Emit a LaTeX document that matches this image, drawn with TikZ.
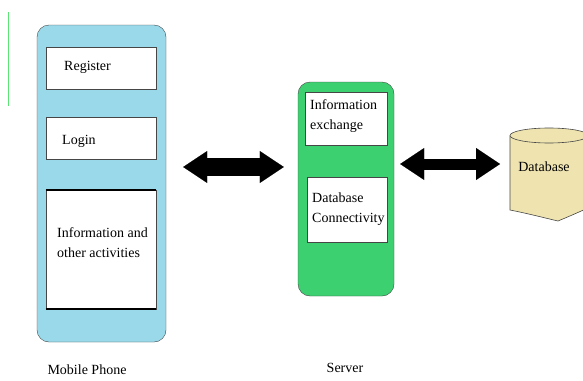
\documentclass[tikz,border=0pt]{standalone}
\usepackage{fontspec}
\setmainfont{Liberation Serif}
\usepackage{tikz}
\usetikzlibrary{arrows.meta,calc}

\definecolor{phoneblue}{RGB}{153,217,234}
\definecolor{servergreen}{RGB}{61,208,113}
\definecolor{dbyellow}{RGB}{239,228,176}
\definecolor{edgegray}{RGB}{70,70,70}

\begin{document}
\begin{tikzpicture}[x=1pt, y=-1pt,
    every node/.style={font=\fontsize{14}{20}\selectfont},
    device/.style={draw=edgegray, rounded corners=12, inner sep=0},
    inbox/.style={draw=edgegray, fill=white, inner sep=0},
    lbl/.style={anchor=west, align=left, inner sep=0},
    fatarrow/.style={draw=black, line width=#1,
        {Triangle[length=24pt, width=32pt, line width=0.1pt]}-{Triangle[length=24pt, width=32pt, line width=0.1pt]}}]
    \useasboundingbox (0,0) rectangle (583,380);
    \clip (0,0) rectangle (583,380);

    % stray green mark
    \draw[green!55!white!80!teal, line width=0.8] (8,12) -- (8,106);

    % Mobile Phone
    \node[device, fill=phoneblue, minimum width=129, minimum height=317] (phone) at (101.5,183.5) {};
    \node[inbox, minimum width=110, minimum height=42] (reg) at (101,68) {};
    \node[lbl] (reglbl) at (64,67) {Register};
    \node[inbox, minimum width=110, minimum height=42] (login) at (101,138) {};
    \node[lbl] (loginlbl) at (62,141) {Login};
    \node[inbox, minimum width=110, minimum height=119] (info) at (101,249.5) {};
    \draw[line width=2] (info.north west) -- (info.north east);
    \draw[line width=2] (info.south west) -- (info.south east);
    \node[lbl] (infolbl) at (57,243) {Information and\\other activities};
    \node (phonelbl) at (87,370) {Mobile Phone};

    % Server
    \node[device, fill=servergreen, minimum width=96, minimum height=214] (server) at (346,189) {};
    \node[inbox, minimum width=82, minimum height=53] (exch) at (346,118.5) {};
    \node[lbl] (exchlbl) at (310,116) {Information\\exchange};
    \node[inbox, minimum width=80, minimum height=65] (dbc) at (347,209.5) {};
    \node[lbl] (dbclbl) at (312,209) {Database\\Connectivity};
    \node (serverlbl) at (345,368) {Server};

    % Database
    \fill[dbyellow, draw=edgegray, line width=0.6] (510,135.5) -- (510,210)
        .. controls (530,214) and (545,218) .. (558,221)
        .. controls (570,216) .. (588,208) -- (588,135.5);
    \draw[edgegray, fill=dbyellow, line width=0.6] (549,135.5) ellipse [x radius=39, y radius=7.5];
    \coordinate (dbleft) at (510,164);
    \node (db) at (544,167) {Database};

    % Arrows
    \coordinate (row1) at (0,167);
    \coordinate (row2) at (0,164);
    \draw[fatarrow=18, shorten <=17pt, shorten >=14pt] (phone.east |- row1) -- (server.west |- row1);
    \draw[fatarrow=11, shorten <=6pt, shorten >=10pt] (server.east |- row2) -- (dbleft);
\end{tikzpicture}
\end{document}
